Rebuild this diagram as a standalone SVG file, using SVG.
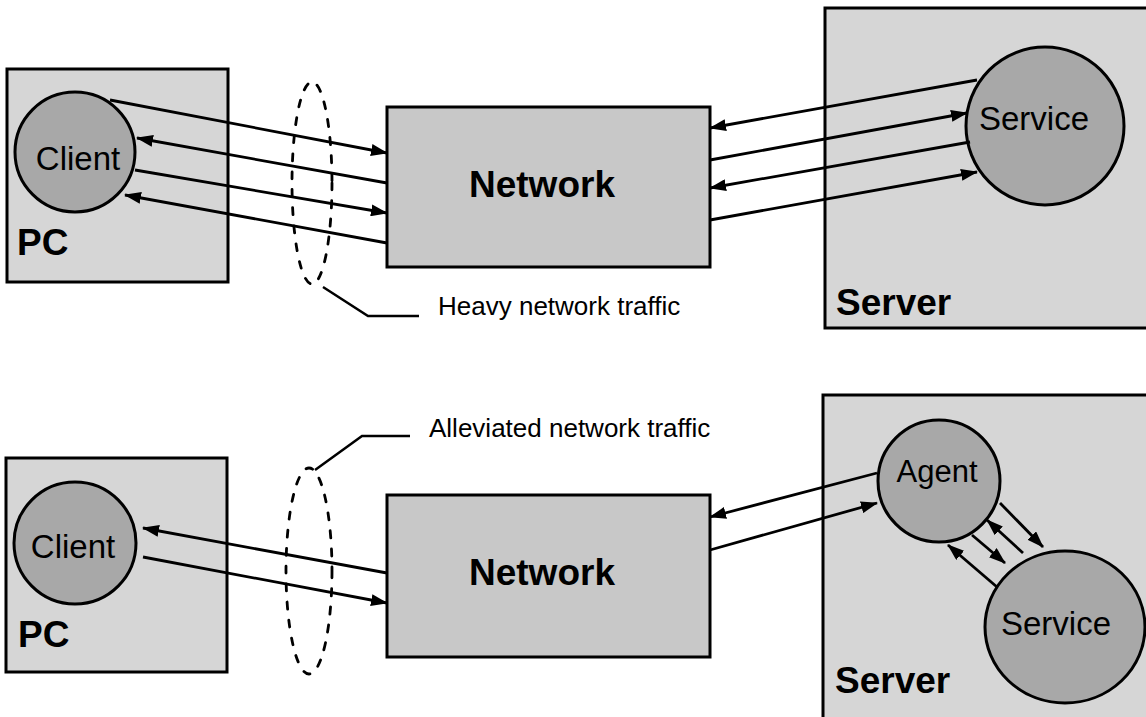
<svg xmlns="http://www.w3.org/2000/svg" width="1146" height="717" viewBox="0 0 1146 717">
<style>
.box{fill:#d6d6d6;stroke:#000;stroke-width:3}
.net{fill:#c8c8c8;stroke:#000;stroke-width:3}
.proc{fill:#a8a8a8;stroke:#000;stroke-width:3}
.conn line{stroke:#000;stroke-width:2.8;marker-end:url(#ah)}
.lead{fill:none;stroke:#000;stroke-width:2.5}
.ell{fill:none;stroke:#000;stroke-width:2.8;stroke-dasharray:7 11;stroke-linecap:round}
text{font-family:"Liberation Sans",Arial,sans-serif;fill:#000}
.lbl{font-size:33px;text-anchor:middle}
.big{font-size:37px;font-weight:bold}
.note{font-size:26px}
</style>
<defs>
<marker id="ah" markerUnits="userSpaceOnUse" markerWidth="17" markerHeight="12" refX="16" refY="6" orient="auto">
<path d="M0,0 L17,6 L0,12 z" fill="#000"/>
</marker>
</defs>
<rect width="1146" height="717" fill="#fff"/>

<g id="pc-top"><rect class="box" x="7" y="69" width="221" height="213"/><text class="big" x="17" y="255">PC</text></g>
<g id="client-top"><circle class="proc" cx="75" cy="152" r="60"/><text class="lbl" x="78" y="170">Client</text></g>
<g id="network-top"><rect class="net" x="387" y="107" width="323" height="160"/><text class="big" x="542" y="197" text-anchor="middle">Network</text></g>
<g id="server-top"><rect class="box" x="825" y="8" width="330" height="320"/><text class="big" x="836" y="315">Server</text></g>
<g id="service-top"><circle class="proc" cx="1045" cy="126" r="79"/><text class="lbl" x="1034" y="130">Service</text></g>
<g id="traffic-top"><ellipse class="ell" cx="312" cy="183" rx="20" ry="101"/><polyline class="lead" points="323,287 368,316 419,316"/><text class="note" x="438" y="315">Heavy network traffic</text></g>

<g id="pc-bottom"><rect class="box" x="6" y="458" width="221" height="214"/><text class="big" x="18" y="647">PC</text></g>
<g id="client-bottom"><circle class="proc" cx="75" cy="543" r="61"/><text class="lbl" x="73" y="558">Client</text></g>
<g id="network-bottom"><rect class="net" x="387" y="495" width="323" height="162"/><text class="big" x="542" y="585" text-anchor="middle">Network</text></g>
<g id="server-bottom"><rect class="box" x="823" y="395" width="330" height="340"/><text class="big" x="835" y="693">Server</text></g>
<g id="agent"><circle class="proc" cx="939" cy="481" r="61"/><text class="lbl" x="937" y="482" style="font-size:31px">Agent</text></g>
<g id="service-bottom"><ellipse class="proc" cx="1065" cy="627" rx="80" ry="76"/><text class="lbl" x="1056" y="635">Service</text></g>
<g id="traffic-bottom"><ellipse class="ell" cx="309" cy="571" rx="23" ry="103"/><polyline class="lead" points="315,470 362,436 410,436"/><text class="note" x="429" y="437">Alleviated network traffic</text></g>

<g id="connectors" class="conn">
<line x1="110" y1="100" x2="387" y2="153"/>
<line x1="387" y1="183" x2="137" y2="138"/>
<line x1="135" y1="170" x2="387" y2="213"/>
<line x1="387" y1="243" x2="125" y2="195"/>
<line x1="977" y1="80" x2="710" y2="128"/>
<line x1="710" y1="160" x2="967" y2="113"/>
<line x1="970" y1="142" x2="710" y2="188"/>
<line x1="710" y1="220" x2="977" y2="172"/>
<line x1="387" y1="573" x2="143" y2="528"/>
<line x1="143" y1="557" x2="387" y2="603"/>
<line x1="877" y1="473" x2="710" y2="517"/>
<line x1="710" y1="550" x2="877" y2="503"/>
<line x1="1000" y1="503" x2="1043" y2="547"/>
<line x1="1023" y1="553" x2="987" y2="520"/>
<line x1="972" y1="535" x2="1005" y2="563"/>
<line x1="997" y1="587" x2="948" y2="545"/>
</g>
</svg>
